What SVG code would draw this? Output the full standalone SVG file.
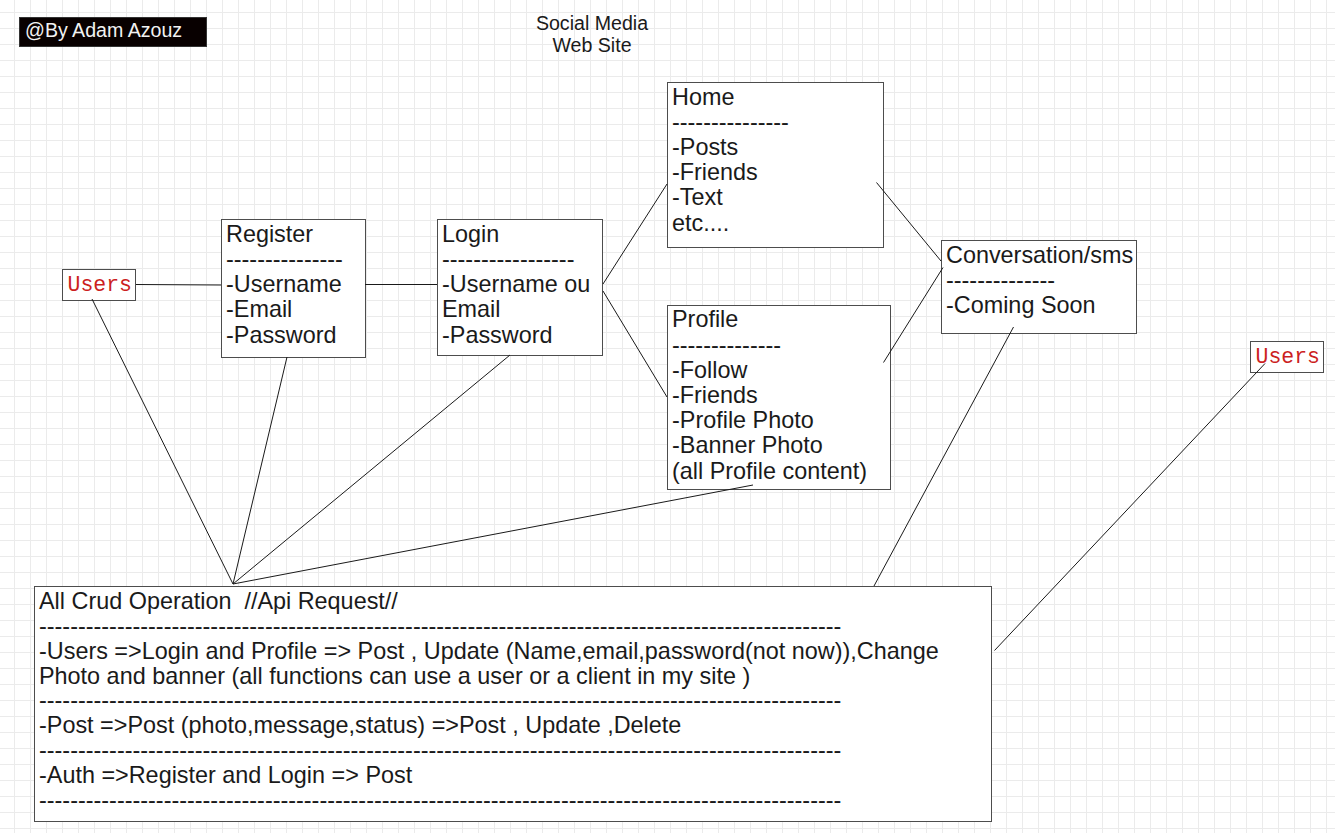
<svg xmlns="http://www.w3.org/2000/svg" width="1335" height="833" viewBox="0 0 1335 833">
<defs>
<pattern id="grid" x="14" y="12" width="16" height="16" patternUnits="userSpaceOnUse">
<path d="M0.5 0 V16 M0 0.5 H16" fill="none" stroke="#ebebeb" stroke-width="1"/>
</pattern>
<style>
.box{fill:#ffffff;stroke:#4d4d4d;stroke-width:1}
.t{font-family:"Liberation Sans",Arial,sans-serif;font-size:23.4px;fill:#1a1a1a}
.title{font-family:"Liberation Sans",Arial,sans-serif;font-size:19.6px;fill:#1a1a1a}
.mono{font-family:"Liberation Mono","Courier New",monospace;font-size:21.5px;fill:#cc1f1f}
.conn line{stroke:#1a1a1a;stroke-width:1;fill:none}
</style>
</defs>
<rect x="0" y="0" width="1335" height="833" fill="#ffffff"/>
<rect x="0" y="0" width="1335" height="833" fill="url(#grid)"/>

<g id="author">
<rect x="19.5" y="17.5" width="187" height="29" fill="#080000" stroke="#333333"/>
<text x="25" y="37" style="font-family:'Liberation Sans',Arial,sans-serif;font-size:19.6px;fill:#f2f2f2">@By Adam Azouz</text>
</g>

<g id="title">
<text class="title" x="592" y="30" text-anchor="middle">Social Media</text>
<text class="title" x="592" y="52" text-anchor="middle">Web Site</text>
</g>

<g id="users1">
<rect class="box" x="62.5" y="269.5" width="73" height="31"/>
<text class="mono" x="67.5" y="291">Users</text>
</g>

<g id="register">
<rect class="box" x="221.5" y="219.5" width="144" height="138"/>
<text class="t" x="226" y="241.8">Register</text>
<text class="t" x="226" y="267">---------------</text>
<text class="t" x="226" y="292.2">-Username</text>
<text class="t" x="226" y="317.4">-Email</text>
<text class="t" x="226" y="342.6">-Password</text>
</g>

<g id="login">
<rect class="box" x="437.5" y="219.5" width="165" height="136"/>
<text class="t" x="442" y="241.8">Login</text>
<text class="t" x="442" y="267">-----------------</text>
<text class="t" x="442" y="292.2">-Username ou</text>
<text class="t" x="442" y="317.4">Email</text>
<text class="t" x="442" y="342.6">-Password</text>
</g>

<g id="home">
<rect class="box" x="667.5" y="82.5" width="216" height="165"/>
<text class="t" x="672" y="104.5">Home</text>
<text class="t" x="672" y="129.7">---------------</text>
<text class="t" x="672" y="154.9">-Posts</text>
<text class="t" x="672" y="180.1">-Friends</text>
<text class="t" x="672" y="205.3">-Text</text>
<text class="t" x="672" y="230.5">etc....</text>
</g>

<g id="profile">
<rect class="box" x="667.5" y="305.5" width="223" height="184"/>
<text class="t" x="672" y="327.3">Profile</text>
<text class="t" x="672" y="352.5">--------------</text>
<text class="t" x="672" y="377.7">-Follow</text>
<text class="t" x="672" y="402.9">-Friends</text>
<text class="t" x="672" y="428.1">-Profile Photo</text>
<text class="t" x="672" y="453.3">-Banner Photo</text>
<text class="t" x="672" y="478.5">(all Profile content)</text>
</g>

<g id="conversation">
<rect class="box" x="941.5" y="240.5" width="195" height="93"/>
<text class="t" x="946" y="262.5">Conversation/sms</text>
<text class="t" x="946" y="287.7">--------------</text>
<text class="t" x="946" y="312.9">-Coming Soon</text>
</g>

<g id="users2">
<rect class="box" x="1250.5" y="341.5" width="73" height="31"/>
<text class="mono" x="1255.5" y="363">Users</text>
</g>

<g id="crud">
<rect class="box" x="34.5" y="586.5" width="957" height="235"/>
<text class="t" x="39" y="608.8" xml:space="preserve">All Crud Operation  //Api Request//</text>
<text class="t" x="39" y="633.7">-------------------------------------------------------------------------------------------------------</text>
<text class="t" x="39" y="658.6">-Users =&gt;Login and Profile =&gt; Post , Update (Name,email,password(not now)),Change</text>
<text class="t" x="39" y="683.5">Photo and banner (all functions can use a user or a client in my site )</text>
<text class="t" x="39" y="708.4">-------------------------------------------------------------------------------------------------------</text>
<text class="t" x="39" y="733.3">-Post =&gt;Post (photo,message,status) =&gt;Post , Update ,Delete</text>
<text class="t" x="39" y="758.2">-------------------------------------------------------------------------------------------------------</text>
<text class="t" x="39" y="783.1">-Auth =&gt;Register and Login =&gt; Post</text>
<text class="t" x="39" y="808">-------------------------------------------------------------------------------------------------------</text>
</g>

<g id="connectors" class="conn">
<line x1="136" y1="284.5" x2="221" y2="285"/>
<line x1="365" y1="284.5" x2="437" y2="284.5"/>
<line x1="603" y1="284" x2="667" y2="184"/>
<line x1="603" y1="291" x2="667" y2="397"/>
<line x1="876.5" y1="182.5" x2="941" y2="261"/>
<line x1="883.5" y1="362.5" x2="943" y2="267.5"/>
<line x1="1013.5" y1="327" x2="874" y2="586"/>
<line x1="1265" y1="363.5" x2="994.5" y2="650.5"/>
<line x1="92" y1="299" x2="233" y2="584"/>
<line x1="287" y1="357" x2="233" y2="584"/>
<line x1="510" y1="355" x2="233" y2="584"/>
<line x1="753" y1="485" x2="233" y2="584"/>
</g>
</svg>
